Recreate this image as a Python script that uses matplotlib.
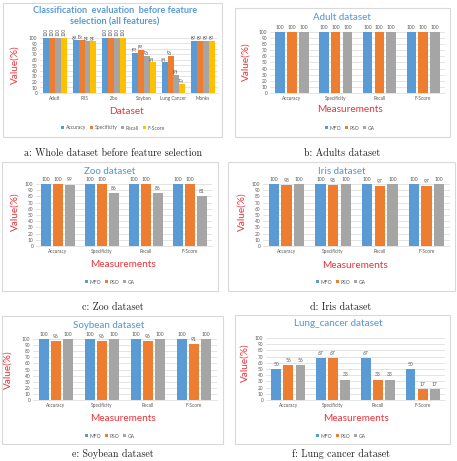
import numpy as np
import matplotlib
matplotlib.use("Agg")
import matplotlib.pyplot as plt
from matplotlib.patches import Rectangle

W, H = 457, 461

# ---- data ----
datasets = ["Adult", "IRIS", "Zoo", "Soyban", "Lung Cancer", "Monks"]
all_accuracy = [100, 96, 100, 73, 56, 95]
all_specificity = [100, 97, 100, 78, 67, 95]
all_recall = [100, 94, 100, 67, 33, 95]
all_fscore = [100, 94, 100, 56, 17, 95]
all_names = ["Accuracy", "Specificity", "Recall", "F-Score"]

measures = ["Accuracy", "Specificity", "Recall", "F-Score"]
algos = ["MFO", "PSO", "GA"]

adult_mfo = [100, 100, 100, 100]
adult_pso = [100, 100, 100, 100]
adult_ga = [100, 100, 100, 100]

zoo_mfo = [100, 100, 100, 100]
zoo_pso = [100, 100, 100, 100]
zoo_ga = [99, 86, 86, 81]

iris_mfo = [100, 100, 100, 100]
iris_pso = [98, 98, 97, 97]
iris_ga = [100, 100, 100, 100]

soy_mfo = [100, 100, 100, 100]
soy_pso = [96, 96, 96, 91]
soy_ga = [100, 100, 100, 100]

lung_mfo = [50, 67, 67, 50]
lung_pso = [56, 67, 33, 17]
lung_ga = [56, 33, 33, 17]

colors4 = ["#5b9bd5", "#ed7d31", "#a5a5a5", "#ffc000"]
colors3 = ["#5b9bd5", "#ed7d31", "#a5a5a5"]

FONT = "Lato"
RED = "#e8353b"
BLUE = "#5b9bd5"
GREY = "#595959"

fig = plt.figure(figsize=(W / 100, H / 100), dpi=100)


def fx(x):
    return x / W


def fy(y):
    return 1 - y / H


def frame(x0, y0, x1, y1):
    fig.patches.append(Rectangle((fx(x0), fy(y1)), fx(x1 - x0), (y1 - y0) / H,
                                 transform=fig.transFigure, fill=False,
                                 edgecolor="#d9d9d9", linewidth=0.8))


def panel(box, plot, cats, series, names, colors, width, step, title, title_xy,
          xlab, xlab_xy, ylab_xy, leg_xy, rotate=False, title_lines=None):
    frame(*box)
    l, t, r, b = plot
    ax = fig.add_axes([fx(l), fy(b), fx(r - l), (b - t) / H])
    x = np.arange(len(cats))
    n = len(series)
    handles = []
    for i, vals in enumerate(series):
        off = (i - (n - 1) / 2) * step
        bars = ax.bar(x + off, vals, width, color=colors[i], label=names[i], zorder=3)
        handles.append(bars)
        for xi, v in zip(x + off, vals):
            if rotate:
                ax.text(xi, v + 3, str(v), rotation=90, ha="center", va="bottom",
                        fontsize=3.3, color=GREY, family=FONT, clip_on=False)
            else:
                ax.text(xi, v + 3.5, str(v), ha="center", va="bottom",
                        fontsize=3.6, color=GREY, family=FONT, clip_on=False)
    ax.set_ylim(0, 100)
    ax.set_xlim(-0.5, len(cats) - 0.5)
    ax.set_yticks(np.arange(0, 101, 10))
    ax.set_xticks(x)
    ax.set_xticklabels(cats)
    ax.tick_params(length=0, labelsize=3.4, colors=GREY, pad=2)
    for lab in ax.get_xticklabels() + ax.get_yticklabels():
        lab.set_family(FONT)
    ax.grid(axis="y", color="#d9d9d9", linewidth=0.5, zorder=0)
    for s in ["top", "right", "left"]:
        ax.spines[s].set_visible(False)
    ax.spines["bottom"].set_color("#d9d9d9")
    ax.spines["bottom"].set_linewidth(0.5)
    ax.patch.set_alpha(0)

    fig.text(fx(title_xy[0]), fy(title_xy[1]), title, ha="center", va="center",
             fontsize=6.6 if title_lines else 7, color=BLUE, family=FONT,
             weight="bold" if title_lines else "medium", linespacing=1.3)
    fig.text(fx(xlab_xy[0]), fy(xlab_xy[1]), xlab, ha="center", va="center",
             fontsize=7.2, color=RED, family=FONT)
    fig.text(fx(ylab_xy[0]), fy(ylab_xy[1]), "Value(%)", ha="center", va="center",
             rotation=90, fontsize=7.2, color=RED, family=FONT)
    fig.legend(handles=handles, loc="center", bbox_to_anchor=(fx(leg_xy[0]), fy(leg_xy[1])),
               ncol=n, frameon=False, handlelength=0.6, handleheight=0.6,
               handletextpad=0.3, columnspacing=0.8,
               prop={"family": FONT, "size": 3.6}, labelcolor=GREY)


def caption(xc, yc, text):
    fig.text(fx(xc), fy(yc), text, ha="center", va="center", fontsize=7.2,
             family="cmr10", color="#222222")


# a
panel((3, 3, 222, 137), (40, 38, 218, 93), datasets,
      [all_accuracy, all_specificity, all_recall, all_fscore], all_names, colors4,
      0.2, 0.2, "Classification  evaluation  before feature\nselection (all features)",
      (115, 16), "Dataset", (126, 112), (15, 65), (113, 128), rotate=True, title_lines=2)
caption(113, 153, "a: Whole dataset before feature selection")

# b
panel((235, 8, 450, 137), (270, 32, 445, 93), measures, [adult_mfo, adult_pso, adult_ga],
      algos, colors3, 0.22, 0.27, "Adult dataset", (342, 17), "Measurements", (350, 110),
      (246, 62), (350, 128))
caption(342, 153, "b: Adults dataset")

# c
panel((2, 162, 218, 291), (36, 184, 212, 246), measures, [zoo_mfo, zoo_pso, zoo_ga],
      algos, colors3, 0.22, 0.27, "Zoo dataset", (110, 171), "Measurements", (123, 264),
      (15, 212), (110, 282))
caption(113, 307, "c: Zoo dataset")

# d
panel((228, 162, 455, 291), (263, 184, 450, 246), measures, [iris_mfo, iris_pso, iris_ga],
      algos, colors3, 0.22, 0.27, "Iris dataset", (342, 171), "Measurements", (355, 265),
      (242, 212), (341, 282))
caption(341, 307, "d: Iris dataset")

# e
panel((2, 316, 223, 444), (33, 339, 217, 400), measures, [soy_mfo, soy_pso, soy_ga],
      algos, colors3, 0.22, 0.27, "Soybean dataset", (109, 325), "Measurements", (123, 418),
      (8, 370), (110, 436))
caption(113, 454, "e: Soybean dataset")

# f
panel((235, 315, 450, 444), (266, 338, 445, 400), measures, [lung_mfo, lung_pso, lung_ga],
      algos, colors3, 0.22, 0.27, "Lung_cancer dataset", (338, 324), "Measurements", (356, 418),
      (245, 363), (341, 436))
caption(341, 454, "f: Lung cancer dataset")

fig.savefig("out.png", dpi=100)
